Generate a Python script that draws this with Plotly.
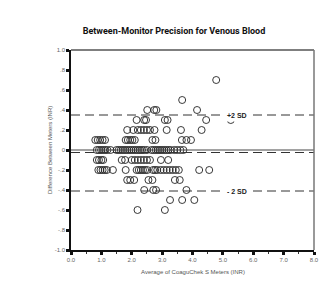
import plotly.graph_objects as go

# Data: mean of two CoaguChek S meters (INR) for each difference level (INR)
row_p07 = [4.78]
row_p05 = [3.66]
row_p04 = [2.51, 2.74, 2.81, 4.15]
row_p03 = [2.16, 2.41, 2.47, 3.09, 3.18, 4.45, 5.26]
row_p02 = [1.85, 2.05, 2.2, 2.3, 2.4, 2.5, 2.6, 2.75, 3.15, 3.62, 4.3]
row_p01 = [0.8, 0.88, 0.96, 1.04, 1.12, 1.8, 1.87, 1.95, 2.02, 2.1, 2.68, 2.78, 3.65, 3.8, 3.95]
row_000 = [0.85, 0.92, 0.99, 1.06, 1.13, 1.2, 1.3, 1.5, 1.57, 1.64, 1.71, 1.78, 1.85, 1.92, 1.99,
           2.06, 2.13, 2.2, 2.27, 2.34, 2.41, 2.5, 2.65, 2.72, 2.79, 2.86, 2.93, 3.0, 3.07,
           3.14, 3.21, 3.28, 3.4, 3.5, 3.6, 3.7]
row_m01 = [0.85, 0.92, 1.0, 1.06, 1.67, 1.78, 2.0, 2.1, 2.2, 2.3, 2.4, 2.5, 2.6, 2.96, 3.2]
row_m02 = [0.9, 0.97, 1.04, 1.11, 1.18, 1.38, 1.8, 2.16, 2.23, 2.3, 2.37, 2.44, 2.51, 2.7, 2.77,
           2.84, 2.95, 3.05, 3.15, 3.25, 3.35, 3.45, 3.55, 4.22, 4.55]
row_m03 = [1.85, 1.95, 2.08, 2.55, 2.68, 3.42, 3.58]
row_m04 = [2.41, 2.71, 2.8, 3.8]
row_m05 = [3.26, 3.66, 4.06]
row_m06 = [2.19, 3.09]

rows = [(0.7, row_p07), (0.5, row_p05), (0.4, row_p04), (0.3, row_p03), (0.2, row_p02),
        (0.1, row_p01), (0.0, row_000), (-0.1, row_m01), (-0.2, row_m02), (-0.3, row_m03),
        (-0.4, row_m04), (-0.5, row_m05), (-0.6, row_m06)]

avg_inr = [x for d, xs in rows for x in xs]
diff_inr = [d for d, xs in rows for x in xs]

upper_sd = 0.35
mean_diff = -0.025
lower_sd = -0.41

x_tickvals = [0, 1, 2, 3, 4, 5, 6, 7, 8]
x_ticktext = ["0.0", "1.0", "2.0", "3.0", "4.0", "5.0", "6.0", "7.0", "8.0"]
y_tickvals = [1.0, 0.8, 0.6, 0.4, 0.2, 0.0, -0.2, -0.4, -0.6, -0.8, -1.0]
y_ticktext = ["1.0", ".8", ".6", ".4", ".2", "0", "-.2", "-.4", "-.6", "-.8", "-1.0"]

fig = go.Figure()
fig.add_trace(go.Scatter(
    x=avg_inr, y=diff_inr, mode="markers",
    marker=dict(symbol="circle-open", size=7, color="#222", line=dict(width=0.9)),
    cliponaxis=False, showlegend=False,
))

tickfont = dict(family="Liberation Sans, Arial, sans-serif", size=6, color="#666")

fig.update_layout(
    width=332, height=281,
    margin=dict(l=63, r=26, t=42, b=39),
    paper_bgcolor="white", plot_bgcolor="white",
    title=dict(text="<b>Between-Monitor Precision for Venous Blood</b>",
               font=dict(family="Roboto, sans-serif", size=9, color="#111"),
               x=0.5, xref="container", xanchor="center",
               y=1 - 23 / 281, yref="container", yanchor="middle"),
    xaxis=dict(range=[0, 8], tickvals=x_tickvals, ticktext=x_ticktext, showgrid=False,
               zeroline=False, showline=True, linecolor="#111", linewidth=1.5,
               ticks="outside", ticklen=3, tickwidth=3, tickcolor="#111",
               tickfont=tickfont,
               minor=dict(tickvals=[0.5, 1.5, 2.5, 3.5, 4.5, 5.5, 6.5, 7.5], ticks="outside",
                          ticklen=2, tickwidth=1, tickcolor="#333")),
    yaxis=dict(range=[-1, 1], tickvals=y_tickvals, ticktext=y_ticktext, showgrid=False,
               zeroline=False, showline=True, linecolor="#111", linewidth=1.5,
               ticks="outside", ticklen=3, tickwidth=3, tickcolor="#111",
               tickfont=tickfont),
)

# reference lines
fig.add_shape(type="line", xref="paper", yref="y", x0=0, x1=1, y0=0, y1=0,
              line=dict(color="#444", width=1))
for yv in [upper_sd, mean_diff, lower_sd]:
    fig.add_shape(type="line", xref="paper", yref="y", x0=0, x1=1, y0=yv, y1=yv,
                  line=dict(color="#333", width=1, dash="9px,5px"))

# top/right frame
fig.add_shape(type="line", xref="paper", yref="paper", x0=0, x1=1, y0=1, y1=1,
              line=dict(color="#555", width=1.5))
fig.add_shape(type="line", xref="paper", yref="paper", x0=1, x1=1, y0=0, y1=1,
              line=dict(color="#777", width=1.5))

labfont = dict(family="Liberation Sans, Arial, sans-serif", size=7, color="#222")
fig.add_annotation(x=5.45, y=upper_sd, xref="x", yref="y", text="<b>+2 SD</b>",
                   showarrow=False, font=labfont, bgcolor="white", borderpad=2)
fig.add_annotation(x=5.45, y=lower_sd, xref="x", yref="y", text="<b>- 2 SD</b>",
                   showarrow=False, font=labfont, bgcolor="white", borderpad=2)

axfont = dict(family="Liberation Sans, Arial, sans-serif", size=6, color="#555")
fig.add_annotation(x=0.5, y=(281 - 273) / 281 - 39 / 281, xref="paper", yref="paper",
                   yanchor="middle", text="Average of CoaguChek S Meters (INR)",
                   showarrow=False, font=axfont)
fig.add_annotation(x=-26 / 243, y=0.5, xref="paper", yref="paper", textangle=-90,
                   text="Difference Between Meters (INR)", showarrow=False, font=axfont)

fig.write_html("out.html")
